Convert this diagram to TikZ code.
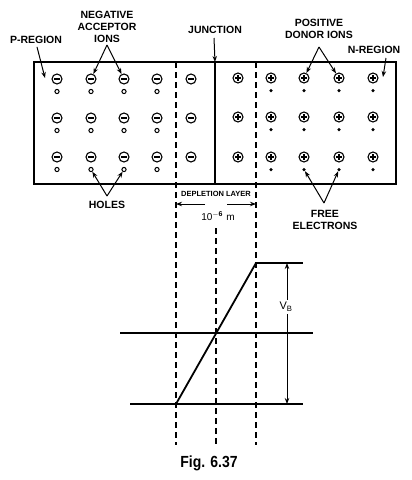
\documentclass[tikz,border=0pt]{standalone}
\usepackage{fontspec}
\setmainfont{Liberation Sans}
\usetikzlibrary{arrows.meta}
\begin{document}
\begin{tikzpicture}[x=1pt,y=-1pt,
  lbl/.style={font=\fontsize{10.5}{12}\selectfont\bfseries, align=center, inner sep=0},
  arr/.style={-{Stealth[length=6pt,width=4.5pt]}, line width=1pt},
  dl/.style={dash pattern=on 6pt off 4pt, line width=1.2pt},
  solid1/.style={line width=1.4pt},
  ionm/.style={circle, draw, line width=1.1pt, minimum size=10pt, inner sep=0,
    path picture={\draw[line width=1.5pt] ([xshift=-2.7pt]path picture bounding box.center) -- ([xshift=2.7pt]path picture bounding box.center);}},
  ionp/.style={circle, draw, line width=1.1pt, minimum size=10pt, inner sep=0,
    path picture={\draw[line width=1.2pt] ([xshift=-2.7pt]path picture bounding box.center) -- ([xshift=2.7pt]path picture bounding box.center)
      ([yshift=-2.7pt]path picture bounding box.center) -- ([yshift=2.7pt]path picture bounding box.center);}},
  hole/.style={circle, draw, line width=1pt, minimum size=4.2pt, inner sep=0},
  elec/.style={circle, fill, minimum size=3.5pt, inner sep=0},
]
\path[use as bounding box, fill=white] (0,0) rectangle (412,480);

% crystal box
\draw[solid1] (34,62) rectangle (396,184);
\coordinate (jtop) at (215,62);
\coordinate (jbot) at (215,184);
\draw[solid1] (jtop) -- (jbot);

% dashed boundaries of depletion layer
\coordinate (ltop) at (176,62);
\coordinate (lbot) at (176,445);
\coordinate (rtop) at (256,62);
\coordinate (rbot) at (256,445);
\coordinate (mtop) at (216,228);
\coordinate (mbot) at (216,445);
\draw[dl] (ltop) -- (lbot);
\draw[dl] (rtop) -- (rbot);
\draw[dl] (mtop) -- (mbot);

% P-side ions and holes
\foreach \r/\y in {1/79,2/118,3/157}{
  \foreach \c/\x in {1/57,2/91,3/124,4/157}{
    \node[ionm] (m\r\c) at (\x,\y) {};
    \node[hole] (h\r\c) at (\x,\y+12.5) {};
  }
  \node[ionm] (m\r5) at (191,\y) {};
}
% N-side ions and electrons
\foreach \r/\y in {1/78,2/117,3/157}{
  \node[ionp] (p\r0) at (238,\y) {};
  \foreach \c/\x in {1/271,2/304,3/339,4/373}{
    \node[ionp] (p\r\c) at (\x,\y) {};
    \node[elec] (e\r\c) at (\x,\y+12.5) {};
  }
}

% labels
\node[lbl] (preg) at (36,40) {P-REGION};
\coordinate (ptip) at (45,78);
\draw[arr] (preg.south) ++(1,3) -- (ptip);

\node[lbl] (neg) at (107,27) {NEGATIVE\\ACCEPTOR\\IONS};
\coordinate (negapex) at (107,45);
\draw[arr] (negapex) -- (m12);
\draw[arr] (negapex) -- (m13);

\node[lbl] (junc) at (215,30) {JUNCTION};
\coordinate (jstart) at (214,38);
\draw[arr] (jstart) -- (jtop);

\node[lbl] (pos) at (319,29) {POSITIVE\\DONOR IONS};
\coordinate (posapex) at (319,47);
\draw[arr] (posapex) -- (p12);
\draw[arr] (posapex) -- (p13);

\node[lbl] (nreg) at (374,50) {N-REGION};
\coordinate (nstart) at (386,58);
\coordinate (ntip) at (383,77);
\draw[arr] (nstart) -- (ntip);

\node[lbl] (holes) at (107,205) {HOLES};
\coordinate (hapex) at (107,196);
\draw[arr] (hapex) -- (h32);
\draw[arr] (hapex) -- (h33);

\node[lbl] (free) at (325,220) {FREE\\ELECTRONS};
\coordinate (eapex) at (324,203);
\draw[arr] (eapex) -- (e32);
\draw[arr] (eapex) -- (e33);

% depletion layer width
\node[font=\fontsize{7.5}{8}\selectfont\bfseries, inner sep=0] (dep) at (216,194) {DEPLETION LAYER};
\coordinate (dl1) at (205,204);
\coordinate (dl2) at (227,204);
\coordinate (dlL) at (176,204);
\coordinate (dlR) at (256,204);
\draw[arr] (dl1) -- (dlL);
\draw[arr] (dl2) -- (dlR);
\node[font=\fontsize{10}{12}\selectfont, inner sep=0] (width) at (218,216) {10$^{\mathbf{-6}}$\,\,m};

% potential graph
\coordinate (a1) at (130,404);
\coordinate (a2) at (176,404);
\coordinate (a3) at (303,404);
\coordinate (b1) at (256,263);
\coordinate (b2) at (303,263);
\coordinate (c1) at (120,333);
\coordinate (c2) at (313,333);
\draw[solid1] (a1) -- (a3);
\draw[solid1] (c1) -- (c2);
\draw[solid1] (b1) -- (b2);
\draw[line width=1.8pt] (a2) -- (b1);

\node[font=\fontsize{11}{12}\selectfont, inner sep=0] (vb) at (286,307) {V$_{\mathrm{B}}$};
\coordinate (vtop) at (287,263);
\coordinate (vbot) at (287,404);
\draw[arr] (vb.north -| vtop) ++(0,-2) -- (vtop);
\draw[arr] (vb.south -| vbot) ++(0,2) -- (vbot);

\node[font=\fontsize{14}{16}\selectfont\bfseries, inner sep=0, yscale=1.15] (fig) at (209,463) {Fig. 6.37};
\end{tikzpicture}
\end{document}
